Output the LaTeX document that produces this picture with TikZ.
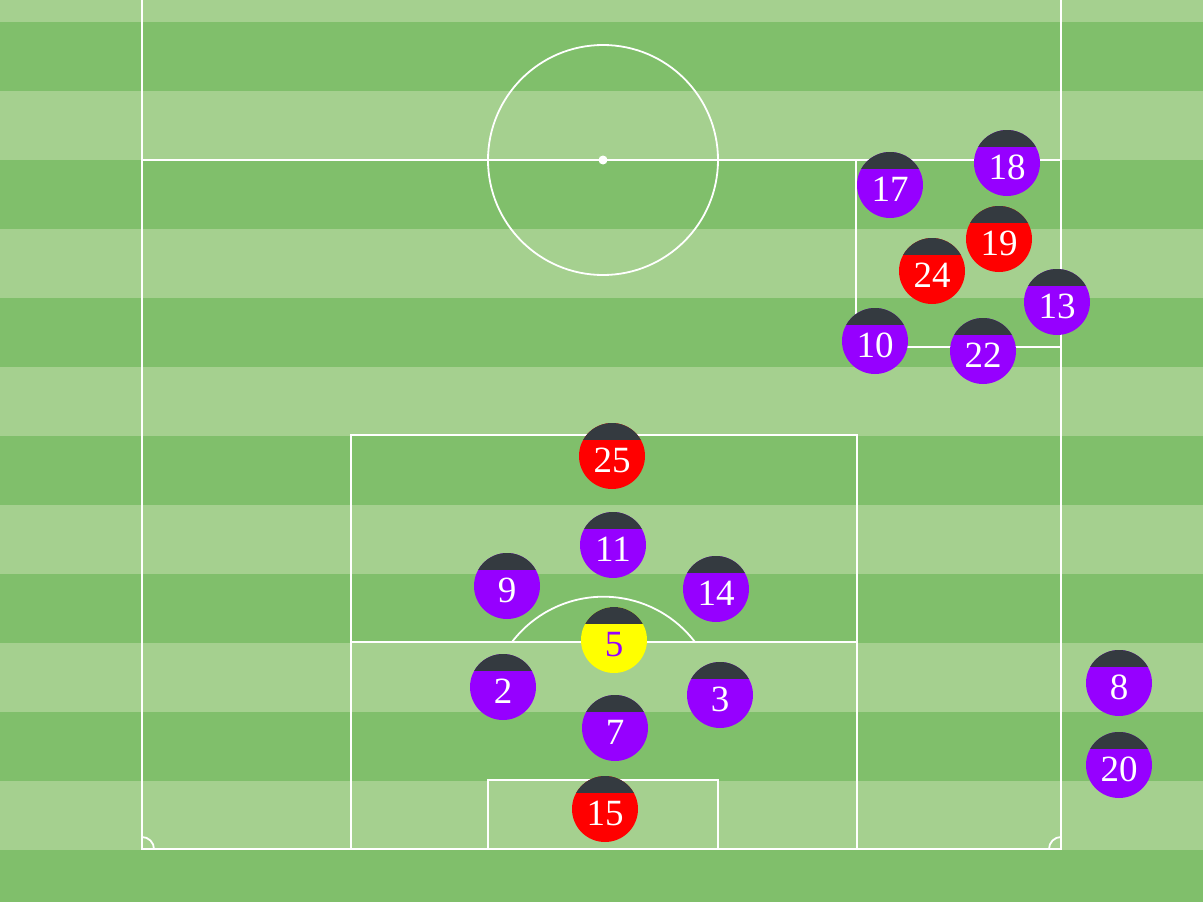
\documentclass[tikz,border=0pt]{standalone}
\usepackage{fontspec}
\setmainfont{Liberation Serif}
\definecolor{grasslight}{HTML}{A5D08F}
\definecolor{grassdark}{HTML}{80BF6B}
\definecolor{capcol}{HTML}{343A40}
\definecolor{teampurple}{HTML}{9600FF}
\definecolor{teamred}{HTML}{FF0000}
\definecolor{teamyellow}{HTML}{FFFF00}
\tikzset{
  pitchline/.style={draw=white, line width=1.8pt},
  player/.style={circle, minimum size=66pt, inner sep=0pt, text=white,
    font=\fontsize{37}{40}\selectfont, text height=33pt, text depth=0pt,
    path picture={\fill[capcol] ([xshift=-2pt,yshift=2pt]path picture bounding box.north west) rectangle ([xshift=2pt,yshift=16.5pt]path picture bounding box.east);}},
  tiltplayer/.style={circle, minimum size=66pt, inner sep=0pt, text=teampurple,
    font=\fontsize{37}{40}\selectfont, text height=33pt, text depth=0pt,
    path picture={\fill[capcol, rotate around={-2:(path picture bounding box.center)}] ([xshift=-6pt,yshift=6pt]path picture bounding box.north west) rectangle ([xshift=6pt,yshift=16.5pt]path picture bounding box.east);}},
  purpleplayer/.style={player, fill=teampurple},
  redplayer/.style={player, fill=teamred},
}
\begin{document}
\begin{tikzpicture}[x=1pt,y=-1pt]
\useasboundingbox (0,0) rectangle (1203,902);
% grass
\fill[grassdark] (0,0) rectangle (1203,902);
\foreach \s in {0,138,276,414,552,690}{
  \fill[grasslight] (0,{\s-47}) rectangle (1203,{\s+22});
}
\fill[grasslight] (0,781) rectangle (1203,850);
% pitch lines
\draw[pitchline] (142,0) -- (142,849) -- (1061,849) -- (1061,0);
\draw[pitchline] (142,160) -- (1061,160);
\draw[pitchline] (603,160) circle[radius=115pt];
\fill[white] (603,160) circle[radius=4.5pt];
\draw[pitchline] (351,849) -- (351,435) -- (857,435) -- (857,849);
\draw[pitchline] (351,642) -- (857,642);
\draw[pitchline] (488,849) -- (488,780) -- (718,780) -- (718,849);
\draw[pitchline] (512,642) arc[start angle=142.7, end angle=37.3, radius=115pt];
\draw[pitchline] (856,160) -- (856,347) -- (1061,347);
\draw[pitchline] (154,849) arc[start angle=0, end angle=90, radius=12pt];
\draw[pitchline] (1049,849) arc[start angle=180, end angle=90, radius=12pt];
% players
\node[purpleplayer] (p17) at (890,185) {17};
\node[purpleplayer] (p18) at (1007,163) {18};
\node[redplayer] (p19) at (999,239) {19};
\node[redplayer] (p24) at (932,271) {24};
\node[purpleplayer] (p13) at (1057,302) {13};
\node[purpleplayer] (p10) at (875,341) {10};
\node[purpleplayer] (p22) at (983,351) {22};
\node[redplayer] (p25) at (612,456) {25};
\node[purpleplayer] (p11) at (613,545) {11};
\node[purpleplayer] (p9) at (507,586) {9};
\node[purpleplayer] (p14) at (716,589) {14};
\node[tiltplayer, fill=teamyellow] (p5) at (614,640) {5};
\node[purpleplayer] (p2) at (503,687) {2};
\node[purpleplayer] (p3) at (720,695) {3};
\node[purpleplayer] (p7) at (615,728) {7};
\node[redplayer] (p15) at (605,809) {15};
\node[purpleplayer] (p8) at (1119,683) {8};
\node[purpleplayer] (p20) at (1119,765) {20};
\end{tikzpicture}
\end{document}
